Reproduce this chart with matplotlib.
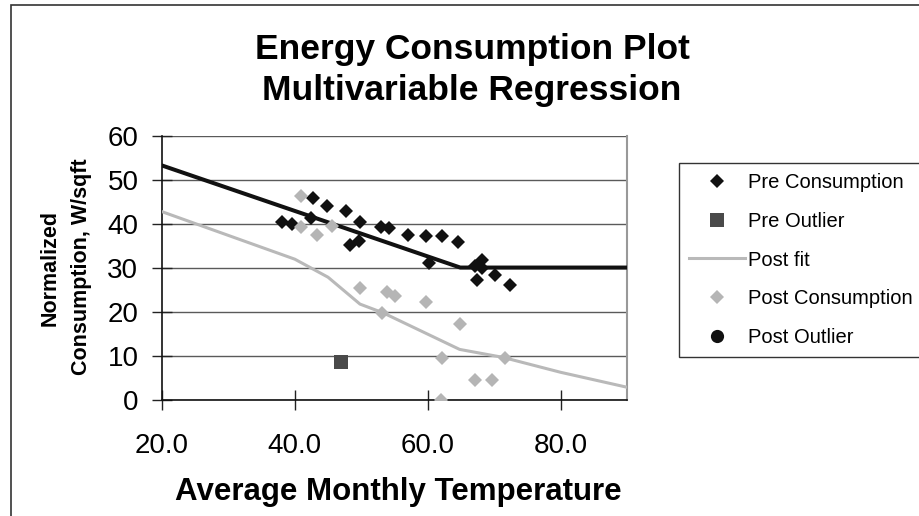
import matplotlib.pyplot as plt
from matplotlib.patches import Rectangle

plt.rcParams['font.family'] = ['Liberation Sans', 'DejaVu Sans']

# Pre data (black diamonds)
pre_temp = [38.1, 39.5, 42.4, 42.8, 44.8, 47.7, 48.3, 49.6, 49.8, 52.9, 54.1,
            57.1, 59.8, 60.2, 62.2, 64.6, 67.1, 68.2, 68.2, 67.4, 70.1, 72.4]
pre_cons = [40.4, 39.9, 41.3, 45.9, 44.0, 43.0, 35.2, 36.2, 40.5, 39.4, 39.0,
            37.6, 37.2, 31.2, 37.2, 35.8, 30.5, 31.9, 30.0, 27.3, 28.5, 26.2]

pre_out_temp = [46.9]
pre_out_cons = [8.6]

# Post data (grey diamonds)
post_temp = [40.9, 40.9, 43.3, 45.6, 49.8, 53.1, 53.8, 55.0, 59.8, 62.0,
             62.2, 64.9, 67.1, 69.7, 71.6]
post_cons = [46.3, 39.4, 37.6, 39.5, 25.5, 19.8, 24.5, 23.6, 22.2, 0.0,
             9.5, 17.3, 4.5, 4.5, 9.5]

post_out_temp = []
post_out_cons = []

# fitted lines
pre_fit_x = [20, 64.9, 90]
pre_fit_y = [53.3, 30.1, 30.1]
post_fit_x = [20, 40, 45, 49.8, 53.3, 64.8, 71.3, 80, 90]
post_fit_y = [42.8, 32.0, 27.9, 21.8, 19.8, 11.5, 9.7, 6.3, 2.9]

W, H = 920, 516
fig = plt.figure(figsize=(W / 100, H / 100), dpi=100)
ax = fig.add_axes([162 / W, 1 - 400 / H, 465 / W, 264 / H])

ax.plot(pre_fit_x, pre_fit_y, color="#111111", lw=2.9, zorder=3)
ax.plot(post_fit_x, post_fit_y, color="#b9b9b9", lw=2.2, zorder=3, label="Post fit")

ax.plot(pre_temp, pre_cons, "D", color="#111111", ms=7.3, mew=0, ls="none",
        label="Pre Consumption", zorder=4)
ax.plot(pre_out_temp, pre_out_cons, "s", color="#4a4a4a", ms=9.5, mew=0, ls="none",
        label="Pre Outlier", zorder=4)
ax.plot(post_temp, post_cons, "D", color="#b5b5b5", ms=7.3, mew=0, ls="none",
        label="Post Consumption", zorder=4)
ax.plot(post_out_temp, post_out_cons, "o", color="#111111", ms=9.5, mew=0, ls="none",
        label="Post Outlier", zorder=4)

ax.set_xlim(20, 90)
ax.set_ylim(0, 60)
ax.set_xticks([20, 40, 60, 80])
ax.set_xticklabels(["20.0", "40.0", "60.0", "80.0"])
ax.set_yticks(range(0, 61, 10))
ax.tick_params(axis="both", direction="inout", length=14, width=1, labelsize=20, color="#222222")
ax.tick_params(axis="y", pad=10)
ax.tick_params(axis="x", pad=17)
ax.yaxis.grid(True, color="#5a5a5a", lw=1)
ax.set_axisbelow(True)

for s in ["left", "bottom"]:
    ax.spines[s].set_color("#111111")
    ax.spines[s].set_linewidth(1.2)
ax.spines["top"].set_visible(False)
ax.spines["right"].set_color("#999999")
ax.spines["right"].set_linewidth(1.5)

# legend in the order shown on the chart
h, l = ax.get_legend_handles_labels()
order = ["Pre Consumption", "Pre Outlier", "Post fit", "Post Consumption", "Post Outlier"]
hs = [h[l.index(o)] for o in order]
leg = ax.legend(hs, order, loc="upper left", bbox_to_anchor=(679 / W, 1 - 163 / H),
                bbox_transform=fig.transFigure, borderaxespad=0, fontsize=14.5,
                frameon=True, fancybox=False, framealpha=1, edgecolor="#333333",
                handlelength=2.8, handletextpad=0.15, labelspacing=0.98, borderpad=0.5)
leg.get_frame().set_linewidth(1)

# titles and axis labels
fig.text(472 / W, 1 - 59 / H, "Energy Consumption Plot", ha="center", va="baseline",
         fontsize=25.5, fontweight="bold")
fig.text(472 / W, 1 - 100 / H, "Multivariable Regression", ha="center", va="baseline",
         fontsize=25.5, fontweight="bold")
fig.text(398 / W, 1 - 500 / H, "Average Monthly Temperature", ha="center", va="baseline",
         fontsize=22.5, fontweight="bold")
fig.text(50 / W, 1 - 268 / H, "Normalized", rotation=90, ha="center", va="center",
         fontsize=15.5, fontweight="bold")
fig.text(82 / W, 1 - 267 / H, "Consumption, W/sqft", rotation=90, ha="center", va="center",
         fontsize=15.5, fontweight="bold")

# outer chart border (runs past the right and bottom edges)
fig.patches.append(Rectangle((11 / W, -0.05), 1.0, 1 - 5 / H + 0.05, transform=fig.transFigure,
                             fill=False, edgecolor="#333333", lw=1.2))

fig.savefig("out.png", dpi=100)
